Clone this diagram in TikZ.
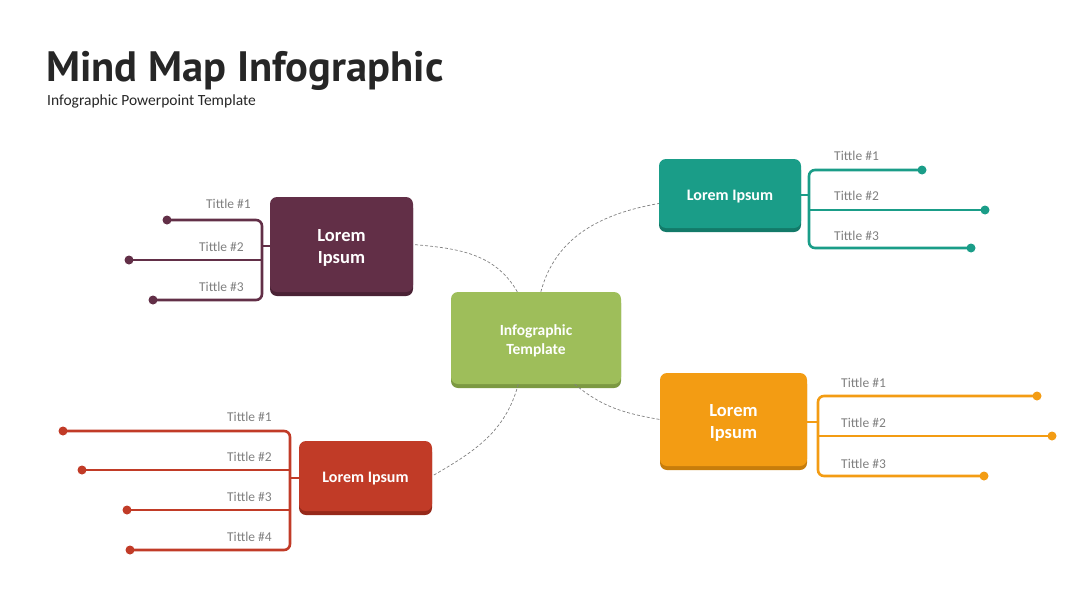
\documentclass[tikz,border=0pt]{standalone}
\usepackage{fontspec}
\setmainfont{Carlito}
\newfontfamily\titlefont{PT Sans}
\usetikzlibrary{shadows}
\definecolor{cpur}{HTML}{622F47}\definecolor{cpurD}{HTML}{4A2235}
\definecolor{cteal}{HTML}{1A9D88}\definecolor{ctealD}{HTML}{137A69}
\definecolor{cgrn}{HTML}{9EBE5A}\definecolor{cgrnD}{HTML}{7C9942}
\definecolor{corg}{HTML}{F39C13}\definecolor{corgD}{HTML}{C77D0B}
\definecolor{cred}{HTML}{C13B27}\definecolor{credD}{HTML}{96291A}
\definecolor{clab}{HTML}{808080}
\definecolor{ctitle}{HTML}{262626}
\tikzset{
  boxnode/.style n args={4}{rectangle, rounded corners=7pt, fill=#1, draw=none,
     minimum width=#3, minimum height=#4, inner sep=0pt,
     general shadow={fill=#2, shadow yshift=-4pt}},
  boxtext/.style={text=white, align=center, inner sep=0pt, yshift=-3pt},
  dotnode/.style={circle, fill=#1, inner sep=0pt, minimum size=9pt},
  branch/.style={line width=2.6pt, draw=#1, rounded corners=6pt},
  lab/.style={text=clab, font=\fontsize{13.5}{15}\selectfont, inner sep=0pt},
  link/.style={draw=gray, dashed, line width=0.7pt, dash pattern=on 3pt off 2pt},
}
\begin{document}
\begin{tikzpicture}[x=1pt,y=-1pt]
\useasboundingbox (0,0) rectangle (1080,608);
% titles
\node[anchor=base west, inner sep=0pt, text=ctitle, font=\titlefont\bfseries\fontsize{42.5}{46}\selectfont] (title) at (46,81) {Mind Map Infographic};
\node[anchor=base west, inner sep=0pt, text=ctitle, font=\fontsize{15.5}{17}\selectfont] (subtitle) at (47,105) {Infographic Powerpoint Template};
% boxes
\node[boxnode={cgrn}{cgrnD}{170pt}{92pt}] (g) at (536,338) {};
\node[boxnode={cpur}{cpurD}{143pt}{95pt}] (p) at (341.5,244.5) {};
\node[boxnode={cteal}{ctealD}{142pt}{69pt}] (t) at (730,193.5) {};
\node[boxnode={corg}{corgD}{147pt}{93pt}] (o) at (733.5,419.5) {};
\node[boxnode={cred}{credD}{133pt}{70pt}] (r) at (365.5,476) {};
\node[boxtext, font=\bfseries\fontsize{15.5}{19}\selectfont] (gtx) at (g.center) {Infographic\\Template};
\node[boxtext, font=\bfseries\fontsize{18.5}{22}\selectfont] (ptx) at (p.center) {Lorem\\Ipsum};
\node[boxtext, font=\bfseries\fontsize{16}{20}\selectfont] (ttx) at (t.center) {Lorem Ipsum};
\node[boxtext, font=\bfseries\fontsize{18.5}{22}\selectfont] (otx) at (o.center) {Lorem\\Ipsum};
\node[boxtext, font=\bfseries\fontsize{16}{20}\selectfont] (rtx) at (r.center) {Lorem Ipsum};
% dashed links
\draw[link] (g.84) to[out=75, in=190] (t.188);
\draw[link] (g.112) to[out=120, in=-5] (p.east);
\draw[link] (g.249) to[out=-105, in=30] (r.east);
\draw[link] (g.-50) to[out=-40, in=170] (o.west);
% purple branch
\coordinate (pj) at (262,246);
\node[dotnode=cpur] (p1) at (167,220) {};
\node[dotnode=cpur] (p2) at (129,260) {};
\node[dotnode=cpur] (p3) at (153,300) {};
\draw[branch=cpur] (p1.center) -- (p1.center -| pj) -- (p3.center -| pj) -- (p3.center);
\draw[branch=cpur] (p2.center) -- (p2.center -| pj);
\draw[branch=cpur] (p.west |- pj) -- (pj);
\node[lab, anchor=east] (pl1) at (251,204) {Tittle \#1};
\node[lab, anchor=east] (pl2) at (244,247) {Tittle \#2};
\node[lab, anchor=east] (pl3) at (244,287) {Tittle \#3};
% teal branch
\coordinate (tj) at (809,195);
\node[dotnode=cteal] (t1) at (922,170) {};
\node[dotnode=cteal] (t2) at (985,210) {};
\node[dotnode=cteal] (t3) at (971,248) {};
\draw[branch=cteal] (t1.center) -- (t1.center -| tj) -- (t3.center -| tj) -- (t3.center);
\draw[branch=cteal] (t2.center) -- (t2.center -| tj);
\draw[branch=cteal] (t.east |- tj) -- (tj);
\node[lab, anchor=west] (tl1) at (834,156) {Tittle \#1};
\node[lab, anchor=west] (tl2) at (834,196) {Tittle \#2};
\node[lab, anchor=west] (tl3) at (834,236) {Tittle \#3};
% orange branch
\coordinate (oj) at (818,422);
\node[dotnode=corg] (o1) at (1037,396) {};
\node[dotnode=corg] (o2) at (1052,436) {};
\node[dotnode=corg] (o3) at (984,476) {};
\draw[branch=corg] (o1.center) -- (o1.center -| oj) -- (o3.center -| oj) -- (o3.center);
\draw[branch=corg] (o2.center) -- (o2.center -| oj);
\draw[branch=corg] (o.east |- oj) -- (oj);
\node[lab, anchor=west] (ol1) at (841,383) {Tittle \#1};
\node[lab, anchor=west] (ol2) at (841,423) {Tittle \#2};
\node[lab, anchor=west] (ol3) at (841,464) {Tittle \#3};
% red branch
\coordinate (rj) at (290,478);
\node[dotnode=cred] (r1) at (63,431) {};
\node[dotnode=cred] (r2) at (82,470) {};
\node[dotnode=cred] (r3) at (127,510) {};
\node[dotnode=cred] (r4) at (130,550) {};
\draw[branch=cred] (r1.center) -- (r1.center -| rj) -- (r4.center -| rj) -- (r4.center);
\draw[branch=cred] (r2.center) -- (r2.center -| rj);
\draw[branch=cred] (r3.center) -- (r3.center -| rj);
\draw[branch=cred] (r.west |- rj) -- (rj);
\node[lab, anchor=east] (rl1) at (272,417) {Tittle \#1};
\node[lab, anchor=east] (rl2) at (272,457) {Tittle \#2};
\node[lab, anchor=east] (rl3) at (272,497) {Tittle \#3};
\node[lab, anchor=east] (rl4) at (272,537) {Tittle \#4};
\end{tikzpicture}
\end{document}
